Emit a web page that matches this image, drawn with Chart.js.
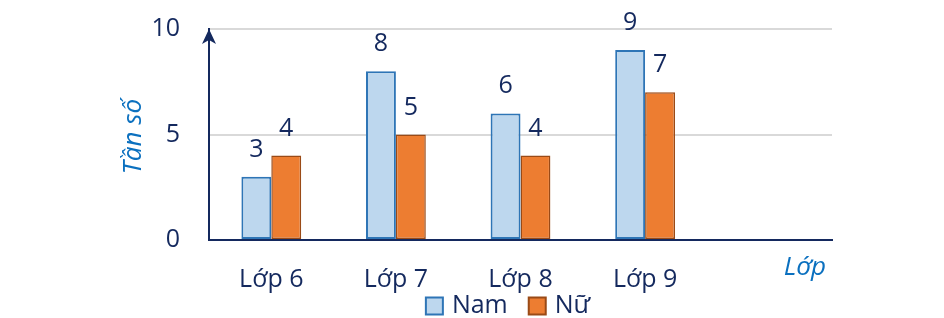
<!DOCTYPE html>
<html>
<head>
<meta charset="utf-8">
<script src="https://cdn.jsdelivr.net/npm/chart.js@4.4.1/dist/chart.umd.min.js"></script>
<style>
  html, body { margin: 0; padding: 0; background: #fff; }
  #wrap { width: 944px; height: 318px; }
</style>
</head>
<body>
<div id="wrap"><canvas id="myChart"></canvas></div>
<script>
// data
var categories = ['Lớp 6', 'Lớp 7', 'Lớp 8', 'Lớp 9', ''];
var namValues = [3, 8, 6, 9, null];
var nuValues = [4, 5, 4, 7, null];
var yTicks = [0, 5, 10];
var seriesNames = ['Nam', 'Nữ'];
var yTitle = 'Tần số';
var xTitle = 'Lớp';

var NAVY = '#14295e';
var BLUE_TXT = '#0b70bf';
var FONT = "'Open Sans', sans-serif";
var seriesFill = ['#bdd7ee', '#ed7d31'];
var seriesBorder = ['#2e75b6', '#9a4a16'];

// numbers above the bars
var valueLabels = {
  id: 'valueLabels',
  afterDatasetsDraw: function (chart) {
    var ctx = chart.ctx;
    ctx.save();
    ctx.font = '25px ' + FONT;
    ctx.fillStyle = NAVY;
    ctx.textAlign = 'center';
    ctx.textBaseline = 'alphabetic';
    chart.data.datasets.forEach(function (ds, i) {
      chart.getDatasetMeta(i).data.forEach(function (bar, j) {
        if (ds.data[j] == null) return;
        ctx.fillText(String(ds.data[j]), bar.x, bar.y - 20);
      });
    });
    ctx.restore();
  }
};

// arrow on the y axis, axis titles and legend
var decorations = {
  id: 'decorations',
  afterDraw: function (chart) {
    var ctx = chart.ctx;
    var a = chart.chartArea;
    ctx.save();

    // arrow head
    ctx.fillStyle = NAVY;
    ctx.beginPath();
    ctx.moveTo(a.left, a.top);
    ctx.lineTo(a.left + 7, a.top + 15);
    ctx.lineTo(a.left, a.top + 11);
    ctx.lineTo(a.left - 7, a.top + 15);
    ctx.closePath();
    ctx.fill();

    // y title
    ctx.fillStyle = BLUE_TXT;
    ctx.font = 'italic 26px ' + FONT;
    ctx.textAlign = 'center';
    ctx.textBaseline = 'middle';
    ctx.save();
    ctx.translate(a.left - 75, (a.top + a.bottom) / 2 + 2);
    ctx.rotate(-Math.PI / 2);
    ctx.fillText(yTitle, 0, 0);
    ctx.restore();

    // x title
    ctx.textAlign = 'right';
    ctx.fillText(xTitle, a.right - 6, a.bottom + 28);

    // legend
    ctx.font = '25px ' + FONT;
    ctx.textAlign = 'left';
    var box = 17, gapText = 9, gapItem = 21;
    var total = 0;
    seriesNames.forEach(function (n, i) {
      total += box + gapText + ctx.measureText(n).width + (i ? gapItem : 0);
    });
    var x = chart.width / 2 + 36 - total / 2;
    var yMid = 306;
    seriesNames.forEach(function (n, i) {
      ctx.fillStyle = seriesFill[i];
      ctx.fillRect(x, yMid - box / 2, box, box);
      ctx.strokeStyle = seriesBorder[i];
      ctx.lineWidth = 2;
      ctx.strokeRect(x, yMid - box / 2, box, box);
      x += box + gapText;
      ctx.fillStyle = NAVY;
      ctx.fillText(n, x, yMid);
      x += ctx.measureText(n).width + gapItem;
    });
    ctx.restore();
  }
};

var ctx = document.getElementById('myChart').getContext('2d');
var config = {
  type: 'bar',
  data: {
    labels: categories,
    datasets: [{
      label: seriesNames[0],
      data: namValues,
      backgroundColor: seriesFill[0],
      borderColor: seriesBorder[0],
      borderWidth: 2,
      borderSkipped: false
    }, {
      label: seriesNames[1],
      data: nuValues,
      backgroundColor: seriesFill[1],
      borderColor: seriesBorder[1],
      borderWidth: 1.5,
      borderSkipped: false
    }]
  },
  options: {
    responsive: true,
    maintainAspectRatio: false,
    animation: false,
    devicePixelRatio: 1,
    layout: { padding: { top: 29, right: 112, left: 0, bottom: 0 } },
    datasets: { bar: { categoryPercentage: 0.48, barPercentage: 1 } },
    plugins: {
      legend: { display: false },
      tooltip: { enabled: false }
    },
    scales: {
      x: {
        grid: { drawOnChartArea: false, drawTicks: false, color: 'rgba(0,0,0,0)' },
        border: { display: true, color: NAVY, width: 2 },
        ticks: { color: NAVY, font: { family: FONT, size: 25 }, padding: 25, maxRotation: 0 },
        afterFit: function (scale) { scale.height = 78; scale.paddingLeft = 0; scale.paddingRight = 0; }
      },
      y: {
        min: 0,
        max: yTicks[yTicks.length - 1],
        afterBuildTicks: function (scale) {
          scale.ticks = yTicks.map(function (v) { return { value: v }; });
        },
        grid: {
          drawTicks: false,
          lineWidth: 2,
          color: function (c) { return c.tick && c.tick.value === 0 ? 'rgba(0,0,0,0)' : '#d9d9d9'; }
        },
        border: { display: true, color: NAVY, width: 2 },
        ticks: { color: NAVY, font: { family: FONT, size: 25 }, padding: 29 },
        afterFit: function (scale) { scale.width = 209; scale.paddingTop = 0; scale.paddingBottom = 0; }
      }
    }
  },
  plugins: [valueLabels, decorations]
};
var myChart = new Chart(ctx, config);
</script>
</body>
</html>
